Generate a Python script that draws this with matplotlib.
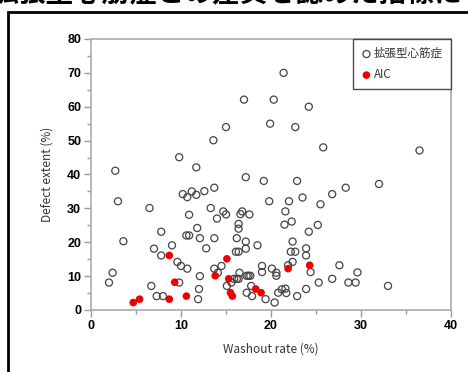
import matplotlib
matplotlib.use("Agg")
import matplotlib.pyplot as plt
from matplotlib.patches import Rectangle
from matplotlib.ticker import MultipleLocator

# dilated cardiomyopathy (open circles)
dcm_x = [2.0, 2.4, 2.7, 3.0, 3.6, 6.5, 6.7, 7.0, 7.3, 7.8, 7.8, 8.0, 9.0, 9.6, 9.8, 9.8,
         10.0, 10.2, 10.6, 10.7, 10.7, 10.9, 10.9, 11.2, 11.7, 11.7, 11.8, 11.9, 12.0, 12.1,
         12.1, 12.6, 12.8, 13.3, 13.6, 13.7, 13.7, 13.7, 14.0, 14.1, 14.5, 14.7, 15.0, 15.0,
         15.1, 15.6, 15.9, 16.1, 16.2, 16.2, 16.4, 16.4, 16.4, 16.4, 16.5, 16.6, 16.8, 17.0,
         17.2, 17.2, 17.2, 17.3, 17.3, 17.5, 17.6, 17.7, 17.8, 17.9, 18.5, 19.0, 19.0, 19.2,
         19.4, 19.8, 19.9, 20.1, 20.3, 20.4, 20.6, 20.6, 20.8, 21.2, 21.4, 21.5, 21.6, 21.6,
         21.7, 21.9, 22.0, 22.2, 22.3, 22.4, 22.4, 22.7, 22.7, 22.9, 22.9, 23.5, 23.9, 23.9,
         23.9, 24.2, 24.2, 24.4, 25.2, 25.3, 25.5, 25.8, 26.8, 26.8, 27.6, 28.3, 28.6, 29.4,
         29.6, 32.0, 33.0, 36.5]
dcm_y = [8.1, 11.0, 41.1, 32.1, 20.3, 30.1, 7.1, 18.1, 4.1, 23.1, 16.1, 4.1, 19.1, 14.2, 45.1, 8.1,
         13.0, 34.2, 22.0, 33.3, 12.2, 28.1, 22.0, 35.0, 34.0, 42.1, 24.2, 3.2, 6.2, 10.0,
         21.2, 35.1, 18.2, 30.1, 50.1, 36.1, 21.2, 12.2, 27.0, 11.0, 13.0, 29.1, 28.2, 54.0,
         7.1, 8.1, 9.2, 17.2, 9.2, 21.2, 9.2, 17.2, 25.4, 24.0, 11.0, 28.3, 29.1, 62.1,
         39.2, 20.2, 18.1, 5.1, 10.1, 10.1, 28.2, 10.1, 7.1, 4.1, 19.1, 13.0, 11.2, 38.1,
         3.2, 32.1, 55.0, 12.2, 62.1, 2.2, 11.0, 10.1, 5.1, 6.1, 70.0, 25.2, 29.1, 6.3,
         5.0, 13.2, 32.1, 17.2, 26.1, 20.2, 14.2, 17.2, 54.0, 38.1, 4.1, 33.2, 18.2, 16.1,
         6.2, 60.0, 23.1, 11.2, 25.1, 8.1, 31.2, 48.0, 34.2, 9.2, 13.2, 36.1, 8.1, 8.1,
         11.1, 37.2, 7.1, 47.1]

# AIC (red dots)
aic_x = [4.7, 5.4, 8.7, 9.3, 8.7, 10.6, 13.8, 15.1, 15.3, 15.5, 15.7, 18.3, 18.9, 21.9, 24.3]
aic_y = [2.2, 3.2, 16.1, 8.2, 3.2, 4.1, 10.1, 15.1, 9.2, 5.1, 4.1, 6.2, 5.1, 12.2, 13.2]

labels = ["拡張型心筋症", "AIC"]
heading = "拡張型心筋症との差異を認めた指標に"

plt.rcParams['font.family'] = ['Liberation Sans', 'Noto Sans CJK JP']

fig = plt.figure(figsize=(4.68, 3.72), dpi=100)
ax = fig.add_axes([0.1944, 0.1667, 0.7693, 0.7285])

ax.scatter(dcm_x, dcm_y, s=26, facecolors='none', edgecolors='#444444', linewidths=0.9,
           label=labels[0], zorder=3)
ax.scatter(aic_x, aic_y, s=30, color='#ee0000', edgecolors='none', label=labels[1], zorder=4)

ax.set_xlim(0, 40)
ax.set_ylim(0, 80)
ax.xaxis.set_major_locator(MultipleLocator(10))
ax.xaxis.set_minor_locator(MultipleLocator(5))
ax.yaxis.set_major_locator(MultipleLocator(10))
ax.yaxis.set_minor_locator(MultipleLocator(5))
ax.tick_params(which='major', direction='out', length=5, width=1, color='#999999', pad=2)
ax.tick_params(which='minor', direction='out', length=3, width=1, color='#999999')
for lab in ax.get_xticklabels() + ax.get_yticklabels():
    lab.set_fontweight('bold')
    lab.set_fontsize(9)
for sp in ax.spines.values():
    sp.set_color('#aaaaaa')
    sp.set_linewidth(1.2)

ax.set_xlabel("Washout rate (%)", fontsize=8.5, color='#333333',
              family=['Noto Sans CJK JP', 'DejaVu Sans'], labelpad=8)
ax.set_ylabel("Defect extent (%)", fontsize=8.5, color='#333333',
              family=['Noto Sans CJK JP', 'DejaVu Sans'], labelpad=10)

leg = ax.legend(loc='upper right', borderaxespad=0, frameon=True, fancybox=False,
                handletextpad=0.15, handlelength=1.0, borderpad=0.7, labelspacing=0.7,
                prop={'family': ['Noto Sans CJK JP', 'DejaVu Sans'], 'size': 8.3})
leg.get_frame().set_edgecolor('#222222')
leg.get_frame().set_linewidth(1.0)
for t in leg.get_texts():
    t.set_color('#333333')

# outer frame of the slide panel
fig.patches.append(Rectangle((8 / 468, -0.05), 1.1, 1 - 12 / 372 + 0.05, transform=fig.transFigure,
                             fill=False, edgecolor='black', linewidth=2))

# heading is cut off at the top edge, as in the source slide
fig.text(-0.02, 0.981, heading, fontsize=20, fontweight='bold',
         family=['Noto Sans CJK JP'], va='bottom', ha='left')

fig.savefig("out.png", dpi=100)
